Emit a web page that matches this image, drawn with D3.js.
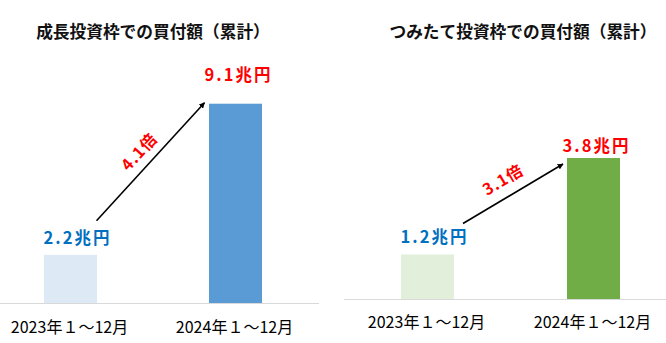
<!DOCTYPE html>
<html>
<head>
<meta charset="utf-8">
<script src="https://cdn.jsdelivr.net/npm/d3@7"></script>
<style>
  html, body { margin: 0; padding: 0; background: #fff; }
  svg { display: block; }
  text { font-family: "Noto Sans CJK JP", "Noto Sans", sans-serif; }
</style>
</head>
<body>
<svg id="chart" width="666" height="343"></svg>
<script>
// Purchase amounts (trillion yen), 2023 vs 2024, per NISA allowance
const periods = ["2023年１～12月", "2024年１～12月"];
const growthValues = [2.2, 9.1];
const tsumitateValues = [1.2, 3.8];
const growthLabels = ["2.2兆円", "9.1兆円"];
const tsumitateLabels = ["1.2兆円", "3.8兆円"];
const growthRatio = "4.1倍";
const tsumitateRatio = "3.1倍";
const titles = ["成長投資枠での買付額（累計）", "つみたて投資枠での買付額（累計）"];

const svg = d3.select("#chart");

svg.append("defs").append("marker")
  .attr("id", "arrowhead")
  .attr("viewBox", "0 0 10 10")
  .attr("refX", 9).attr("refY", 5)
  .attr("markerWidth", 6).attr("markerHeight", 6)
  .attr("markerUnits", "userSpaceOnUse")
  .attr("orient", "auto")
  .append("path")
  .attr("d", "M0,0 L10,5 L0,10 Z")
  .attr("fill", "#000");

const panels = [
  {
    title: titles[0], values: growthValues, labels: growthLabels, ratio: growthRatio,
    colors: ["#DDEAF6", "#5B9BD5"],
    xRange: [70.5, 235.5], axisX: [0, 319], baseline: 303, unit: 21.9,
    titleX: 153, labelY: 333,
    arrowFrom: [26, -34], arrowTo: [-31, -1], ratioOffset: [-7, -6]
  },
  {
    title: titles[1], values: tsumitateValues, labels: tsumitateLabels, ratio: tsumitateRatio,
    colors: ["#E2EFDA", "#70AD47"],
    xRange: [427.5, 593.5], axisX: [344, 666], baseline: 299, unit: 37.1,
    titleX: 523, labelY: 328,
    arrowFrom: [35.5, -31], arrowTo: [-30.5, 6], ratioOffset: [-7, -9]
  }
];

const barWidth = 53;

panels.forEach(p => {
  const g = svg.append("g");
  const x = d3.scalePoint().domain(periods).range(p.xRange);
  const y = d3.scaleLinear().domain([0, 10]).range([p.baseline, p.baseline - 10 * p.unit]);

  // title
  g.append("text")
    .attr("x", p.titleX).attr("y", 38)
    .attr("text-anchor", "middle")
    .attr("font-size", 16.7).attr("font-weight", 700)
    .attr("fill", "#111")
    .text(p.title);

  // bars
  g.selectAll("rect.bar")
    .data(p.values)
    .join("rect")
    .attr("class", "bar")
    .attr("x", (d, i) => x(periods[i]) - barWidth / 2)
    .attr("width", barWidth)
    .attr("y", d => y(d))
    .attr("height", d => y(0) - y(d))
    .attr("fill", (d, i) => p.colors[i]);

  // baseline axis
  g.append("line")
    .attr("x1", p.axisX[0]).attr("x2", p.axisX[1])
    .attr("y1", y(0) + 0.5).attr("y2", y(0) + 0.5)
    .attr("stroke", "#D9D9D9").attr("stroke-width", 1);

  // category labels
  g.selectAll("text.cat")
    .data(periods)
    .join("text")
    .attr("class", "cat")
    .attr("x", d => x(d) - 1)
    .attr("y", p.labelY)
    .attr("text-anchor", "middle")
    .attr("font-size", 16)
    .attr("fill", "#000")
    .text(d => d);

  // value labels
  g.selectAll("text.val")
    .data(p.values)
    .join("text")
    .attr("class", "val")
    .attr("x", (d, i) => x(periods[i]) + (i === 0 ? 7 : 3))
    .attr("y", (d, i) => y(d) - (i === 0 ? 11 : (p.unit > 30 ? 6 : 23)))
    .attr("text-anchor", "middle")
    .attr("font-size", 16.5).attr("font-weight", 700)
    .attr("letter-spacing", 2)
    .attr("fill", (d, i) => i === 0 ? "#0070C0" : "#FF0000")
    .text((d, i) => p.labels[i]);

  // growth arrow between the two bars
  const x0 = x(periods[0]) + p.arrowFrom[0];
  const y0 = y(p.values[0]) + p.arrowFrom[1];
  const x1 = x(periods[1]) + p.arrowTo[0];
  const y1 = y(p.values[1]) + p.arrowTo[1];
  g.append("line")
    .attr("x1", x0).attr("y1", y0)
    .attr("x2", x1).attr("y2", y1)
    .attr("stroke", "#000").attr("stroke-width", 1.6)
    .attr("marker-end", "url(#arrowhead)");

  const angle = Math.atan2(y1 - y0, x1 - x0) * 180 / Math.PI;
  const mx = (x0 + x1) / 2 + p.ratioOffset[0];
  const my = (y0 + y1) / 2 + p.ratioOffset[1];
  g.append("text")
    .attr("transform", `translate(${mx},${my}) rotate(${angle})`)
    .attr("text-anchor", "middle")
    .attr("font-size", 16).attr("font-weight", 700)
    .attr("letter-spacing", 1)
    .attr("fill", "#FF0000")
    .text(p.ratio);
});
</script>
</body>
</html>
